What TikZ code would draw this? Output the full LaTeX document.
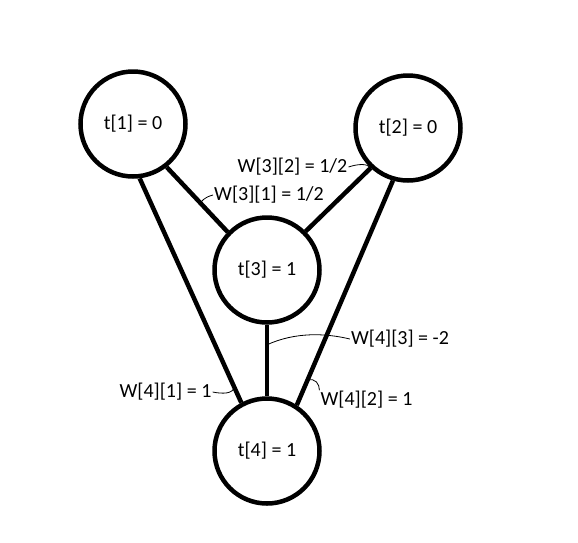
\documentclass[tikz,border=0pt]{standalone}
\usepackage{fontspec}
\setmainfont{Carlito}
\begin{document}
\begin{tikzpicture}[x=1pt,y=-1pt,
    neuron/.style={circle,draw,line width=4.5pt,minimum size=105pt,inner sep=0pt,
        font=\fontsize{20}{24}\selectfont},
    edge/.style={line width=4.5pt},
    leader/.style={line width=0.8pt},
    weight/.style={inner sep=1pt,font=\fontsize{20}{24}\selectfont}]
    \useasboundingbox (0,0) rectangle (578,542);
    % the four units
    \node[neuron] (t1) at (133,124) {t[1] = 0};
    \node[neuron] (t2) at (408,128) {t[2] = 0};
    \node[neuron] (t3) at (267,270) {t[3] = 1};
    \node[neuron] (t4) at (267,451) {t[4] = 1};
    % the connections
    \draw[edge] (t1.-52) -- coordinate[pos=0.55] (c31) (t3.136);
    \draw[edge] (t2.-133) -- (t3.45);
    \draw[edge] (t3.south) -- coordinate[pos=0.28] (c43) (t4.north);
    \draw[edge] (t1.-83) -- coordinate[pos=0.93] (c41) (t4.118);
    \draw[edge] (t2.-106) -- coordinate[pos=0.89] (c42) (t4.57);
    % the weights
    \node[weight] (w32) at (292.5,167) {W[3][2] = 1/2};
    \node[weight] (w31) at (269,195) {W[3][1] = 1/2};
    \node[weight] (w43) at (400,339) {W[4][3] = -2};
    \node[weight] (w41) at (165.5,392) {W[4][1] = 1};
    \node[weight] (w42) at (366.5,400) {W[4][2] = 1};
    \draw[leader] (w32.east) .. controls +(9,-3) and +(-3,-5) .. (t2.-133);
    \draw[leader] (c31) .. controls +(4,-5) and +(-4,1) .. (w31.west);
    \draw[leader] (c43) .. controls (295,332) and (325,333) .. (w43.west);
    \draw[leader] (w41.east) .. controls +(10,2) and +(-1,7) .. (c41);
    \draw[leader] (c42) .. controls +(8,-3) and +(0,-6) .. (w42.north west);
\end{tikzpicture}
\end{document}
